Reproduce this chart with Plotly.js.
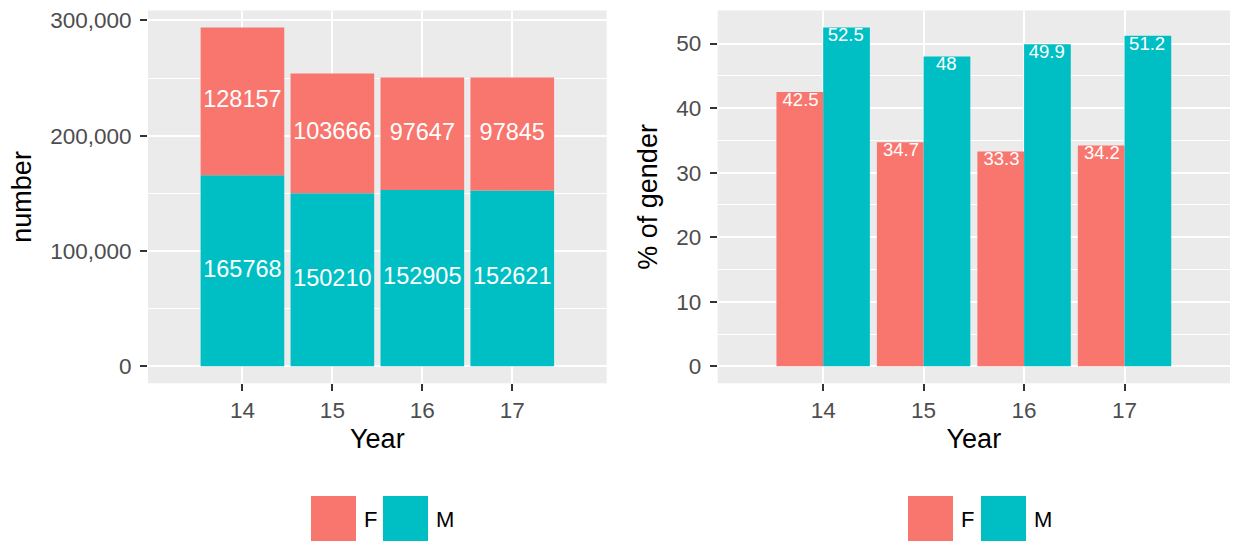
<!DOCTYPE html>
<html>
<head>
<meta charset="utf-8">
<script src="https://cdn.plot.ly/plotly-3.0.1.min.js"></script>
<style>html,body{margin:0;padding:0;background:#fff;}#chart{width:1233px;height:545px;}</style>
</head>
<body>
<div id="chart"></div>
<script>
// ---- data ----
const years = [14, 15, 16, 17];
const countF = [128157, 103666, 97647, 97845];
const countM = [165768, 150210, 152905, 152621];
const pctF = [42.5, 34.7, 33.3, 34.2];
const pctM = [52.5, 48, 49.9, 51.2];
const groups = ['F', 'M'];

// ---- style ----
const colF = '#F8766D', colM = '#00BFC4';
const W = 1233, H = 545;
const px = x => x / W, py = y => 1 - y / H;
const FONT = 'Liberation Sans, Arial, sans-serif';

const traces = [
  // left: stacked counts
  {type: 'bar', x: years, y: countM, base: years.map(() => 0), width: 0.93,
   marker: {color: colM}, xaxis: 'x', yaxis: 'y', showlegend: false, hoverinfo: 'skip'},
  {type: 'bar', x: years, y: countF, base: countM, width: 0.93,
   marker: {color: colF}, xaxis: 'x', yaxis: 'y', showlegend: false, hoverinfo: 'skip'},
  {type: 'scatter', mode: 'text', x: years, y: countM.map(v => v / 2), text: countM.map(String),
   textfont: {color: 'white', size: 23.5, family: FONT}, xaxis: 'x', yaxis: 'y', showlegend: false, hoverinfo: 'skip'},
  {type: 'scatter', mode: 'text', x: years, y: countF.map((v, i) => countM[i] + v / 2), text: countF.map(String),
   textfont: {color: 'white', size: 23.5, family: FONT}, xaxis: 'x', yaxis: 'y', showlegend: false, hoverinfo: 'skip'},
  // right: dodged percentages
  {type: 'bar', x: years, y: pctF, width: 0.465, offset: -0.465,
   marker: {color: colF}, xaxis: 'x2', yaxis: 'y2', showlegend: false, hoverinfo: 'skip'},
  {type: 'bar', x: years, y: pctM, width: 0.465, offset: 0,
   marker: {color: colM}, xaxis: 'x2', yaxis: 'y2', showlegend: false, hoverinfo: 'skip'},
  {type: 'scatter', mode: 'text', x: years.map(v => v - 0.225), y: pctF, text: pctF.map(String),
   textposition: 'bottom center', textfont: {color: 'white', size: 18.5, family: FONT},
   xaxis: 'x2', yaxis: 'y2', showlegend: false, hoverinfo: 'skip'},
  {type: 'scatter', mode: 'text', x: years.map(v => v + 0.225), y: pctM, text: pctM.map(String),
   textposition: 'bottom center', textfont: {color: 'white', size: 18.5, family: FONT},
   xaxis: 'x2', yaxis: 'y2', showlegend: false, hoverinfo: 'skip'}
];

const yDom = [py(383.3), py(10.5)];
const xAxisCommon = {
  range: [12.95, 18.05], tickvals: years, ticktext: years.map(String),
  showgrid: true, gridcolor: '#FFFFFF', gridwidth: 2, zeroline: false,
  ticks: 'outside', ticklen: 7, tickwidth: 2, tickcolor: '#333333',
  tickfont: {size: 22.5, color: '#4D4D4D', family: FONT}, ticklabelstandoff: 0,
  showline: false, fixedrange: true
};
const yAxisCommon = {
  showgrid: true, gridcolor: '#FFFFFF', gridwidth: 2, zeroline: false,
  ticks: 'outside', ticklen: 7, tickwidth: 2, tickcolor: '#333333',
  tickfont: {size: 22.5, color: '#4D4D4D', family: FONT}, ticklabelstandoff: 4,
  showline: false, fixedrange: true
};

const layout = {
  width: W, height: H,
  margin: {l: 0, r: 0, t: 0, b: 0},
  paper_bgcolor: '#FFFFFF', plot_bgcolor: '#EBEBEB',
  barmode: 'overlay', showlegend: false,
  font: {family: FONT},
  xaxis: Object.assign({}, xAxisCommon, {domain: [px(148), px(606.7)], anchor: 'y',
    title: {text: 'Year', font: {size: 27, color: '#000'}, standoff: 6}}),
  yaxis: Object.assign({}, yAxisCommon, {domain: yDom, anchor: 'x', range: [-14696, 308621],
    tickvals: [0, 100000, 200000, 300000], tickformat: ',d',
    minor: {tickvals: [50000, 150000, 250000], showgrid: true, gridcolor: '#FFFFFF', gridwidth: 1, ticks: ''},
    title: {text: 'number', font: {size: 27, color: '#000'}, standoff: 10}}),
  xaxis2: Object.assign({}, xAxisCommon, {domain: [px(717.7), px(1230)], anchor: 'y2',
    title: {text: 'Year', font: {size: 27, color: '#000'}, standoff: 6}}),
  yaxis2: Object.assign({}, yAxisCommon, {domain: yDom, anchor: 'x2', range: [-2.625, 55.125],
    tickvals: [0, 10, 20, 30, 40, 50],
    minor: {tickvals: [5, 15, 25, 35, 45, 55], showgrid: true, gridcolor: '#FFFFFF', gridwidth: 1, ticks: ''},
    title: {text: '% of gender', font: {size: 27, color: '#000'}, standoff: 10}}),
  shapes: [], annotations: []
};

// manual legends (ggplot-style large keys) below each panel
const legends = [
  {keys: [311, 383]},
  {keys: [908, 981]}
];
const legCols = [colF, colM];
legends.forEach(lg => {
  lg.keys.forEach((kx, i) => {
    layout.shapes.push({type: 'rect', xref: 'paper', yref: 'paper',
      x0: px(kx), x1: px(kx + 45), y0: py(541), y1: py(496),
      fillcolor: legCols[i], line: {width: 0}});
    layout.annotations.push({xref: 'paper', yref: 'paper', x: px(kx + 51), y: py(519),
      xanchor: 'left', yanchor: 'middle', text: groups[i], showarrow: false,
      font: {size: 22, color: '#000', family: FONT}});
  });
});

Plotly.newPlot('chart', traces, layout, {staticPlot: true, displayModeBar: false});
</script>
</body>
</html>
